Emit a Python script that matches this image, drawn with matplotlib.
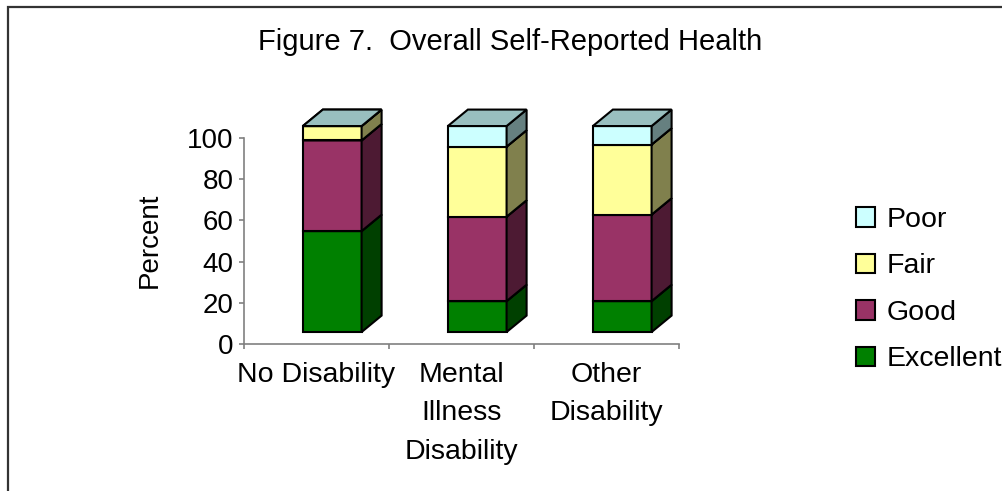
import matplotlib.pyplot as plt
import matplotlib.patches as mpatches
import numpy as np

plt.rcParams['font.family'] = ['Liberation Sans', 'DejaVu Sans']

categories = ['No Disability', 'Mental\nIllness\nDisability', 'Other\nDisability']
series = ['Excellent', 'Good', 'Fair', 'Poor']
excellent = [49, 15, 15]
good = [44, 41, 42]
fair = [7, 34, 34]
poor = [0, 10, 9]
colors = ['#008000', '#993366', '#FFFF99', '#CCFFFF']

values = [excellent, good, fair, poor]

W, H = 1003, 491
fig = plt.figure(figsize=(W / 100, H / 100), dpi=100)
ax = fig.add_axes([244 / W, 1 - 344 / H, 435 / W, 206 / H])
ax.set_xlim(-0.5, 2.5)
ax.set_ylim(0, 100)

# 3-D look: front face shifted into the floor, then a depth offset
fx0, bw = -0.094, 0.405      # front face left edge and width (category units)
base = 5.8                    # front face floor height (value units)
ddx, ddy = 0.138, 8.0         # depth offset

def shade(c, f):
    rgb = np.array(plt.matplotlib.colors.to_rgb(c))
    return tuple(rgb * f)

for i in range(len(categories)):
    bottom = 0.0
    x0 = i + fx0
    x1 = x0 + bw
    for vals, c in zip(values, colors):
        v = vals[i]
        y0 = base + bottom
        y1 = y0 + v
        kw = dict(edgecolor='black', linewidth=1.5, joinstyle='miter', clip_on=False)
        ax.add_patch(mpatches.Polygon([(x0, y0), (x1, y0), (x1, y1), (x0, y1)],
                                      facecolor=c, **kw))
        ax.add_patch(mpatches.Polygon([(x1, y0), (x1 + ddx, y0 + ddy), (x1 + ddx, y1 + ddy), (x1, y1)],
                                      facecolor=shade(c, 0.5), **kw))
        ax.add_patch(mpatches.Polygon([(x0, y1), (x1, y1), (x1 + ddx, y1 + ddy), (x0 + ddx, y1 + ddy)],
                                      facecolor=shade(c, 0.75), **kw))
        bottom += v

for s in ['top', 'right']:
    ax.spines[s].set_visible(False)
for s in ['left', 'bottom']:
    ax.spines[s].set_color('#808080')
    ax.spines[s].set_linewidth(1.2)

ax.set_yticks(range(0, 101, 20))
ax.tick_params(axis='y', direction='out', length=3.6, width=1.2, color='#808080',
               labelsize=20, pad=4)
ax.set_xticks([-0.5, 0.5, 1.5, 2.5])
ax.set_xticklabels([])
ax.tick_params(axis='x', which='major', direction='out', length=3.6, width=1.2, color='#808080')
ax.set_xticks(range(len(categories)), minor=True)
ax.set_xticklabels(categories, minor=True, fontsize=20.5, linespacing=1.62)
ax.tick_params(axis='x', which='minor', length=0, pad=13)

fig.text(150 / W, 1 - 240 / H, 'Percent', rotation=90, fontsize=20,
         ha='center', va='center')
fig.text(510 / W, 1 - 42 / H, 'Figure 7.  Overall Self-Reported Health',
         fontsize=21, ha='center', va='center')

handles = [mpatches.Patch(facecolor=c, edgecolor='black', linewidth=1.5, label=s)
           for s, c in zip(series, colors)][::-1]
fig.legend(handles=handles, loc='upper left',
           bbox_to_anchor=(856 / W, 1 - 207 / H), frameon=False,
           fontsize=20.5, handlelength=0.65, handleheight=0.65,
           handletextpad=0.42, labelspacing=0.72, borderpad=0, borderaxespad=0)

# outer chart frame
fig.patches.append(mpatches.Rectangle((8.3 / W, -0.1), 2, 1.1 - 7.3 / H,
                                      transform=fig.transFigure, fill=False,
                                      edgecolor='#333333', linewidth=1.6))

fig.savefig('out.png', dpi=100)
